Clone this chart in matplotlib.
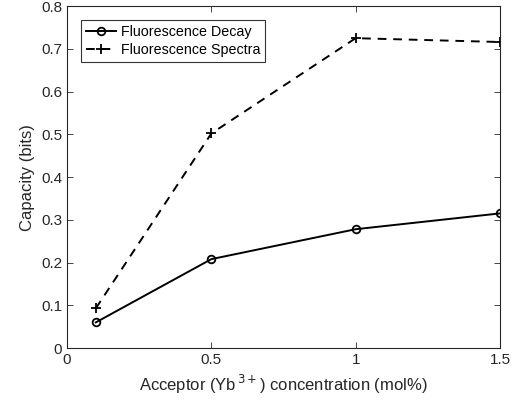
import matplotlib
matplotlib.use("Agg")
import matplotlib.pyplot as plt

plt.rcParams['font.family'] = ['Liberation Sans', 'DejaVu Sans']

x = [0.1, 0.5, 1.0, 1.5]
decay = [0.060, 0.208, 0.278, 0.315]
spectra = [0.093, 0.502, 0.725, 0.716]
xticks = [0, 0.5, 1, 1.5]
xticklabels = ['0', '0.5', '1', '1.5']
yticks = [0, 0.1, 0.2, 0.3, 0.4, 0.5, 0.6, 0.7, 0.8]
yticklabels = ['0', '0.1', '0.2', '0.3', '0.4', '0.5', '0.6', '0.7', '0.8']

fig = plt.figure(figsize=(5.3, 4.08), dpi=100)
ax = fig.add_axes([0.1264, 0.147, 0.817, 0.838])

ax.plot(x, decay, '-', color='black', lw=1.4, marker='o', ms=5.5, mfc='none', mew=1.3,
        label='Fluorescence Decay')
ax.plot(x, spectra, color='black', lw=1.4, ls=(0, (4.5, 3.5)), marker='+', ms=7, mew=1.3,
        label='Fluorescence Spectra')

ax.set_xlim(0, 1.5)
ax.set_ylim(0, 0.8)
ax.set_xticks(xticks)
ax.set_xticklabels(xticklabels)
ax.set_yticks(yticks)
ax.set_yticklabels(yticklabels)
ax.tick_params(direction='in', top=True, right=True, labelsize=11, length=4, width=0.6, colors='#262626')
for s in ax.spines.values():
    s.set_linewidth(0.8)
    s.set_color('#262626')

ax.set_xlabel('Acceptor (Yb$^{\\,3+}$) concentration (mol%)', fontsize=12, color='#262626')
ax.set_ylabel('Capacity (bits)', fontsize=12, color='#262626')

leg = ax.legend(loc='upper left', fontsize=10.3, frameon=True, fancybox=False, edgecolor='black',
                borderaxespad=0.95, handlelength=2.1, borderpad=0.35, labelspacing=0.3, handletextpad=0.35)
leg.get_frame().set_linewidth(0.8)

fig.savefig('out.png', dpi=100)
